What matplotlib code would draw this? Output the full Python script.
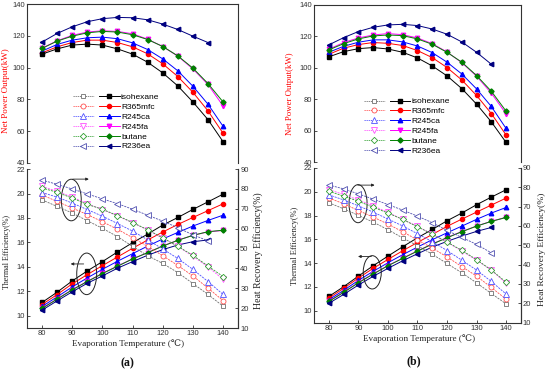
import matplotlib
matplotlib.use('Agg')
import matplotlib.pyplot as plt
from matplotlib.lines import Line2D
from matplotlib.legend_handler import HandlerTuple
from matplotlib.patches import Ellipse

temps = [80, 85, 90, 95, 100, 105, 110, 115, 120, 125, 130, 135, 140]
temps_r236 = temps[:-1]
fluids = ['isohexane', 'R365mfc', 'R245ca', 'R245fa', 'butane', 'R236ea']

# ---------------- panel (a) ----------------
a_power_isohexane = [108.5, 111.8, 114.2, 114.8, 114.2, 111.8, 108.5, 103.4, 96.7, 88.5, 78.4, 67.3, 53.4]
a_power_r365mfc = [109.3, 113.1, 115.8, 117.3, 117.3, 115.8, 113.1, 108.7, 102.4, 94.4, 84.5, 72.8, 58.7]
a_power_r245ca = [110.4, 114.6, 117.3, 118.8, 119.2, 118.2, 115.6, 111.4, 105.5, 98.0, 88.3, 77.0, 63.1]
a_power_r245fa = [112.3, 116.9, 120.3, 122.4, 123.2, 122.8, 121.3, 117.9, 113.3, 107.2, 99.2, 89.4, 75.9]
a_power_butane = [112.1, 116.7, 119.8, 121.9, 122.8, 122.4, 120.7, 117.7, 113.3, 107.4, 99.7, 90.0, 78.4]
a_power_r236ea = [116.1, 121.5, 125.7, 128.9, 130.8, 131.6, 131.4, 130.1, 127.4, 124.0, 119.8, 115.8]

a_thermal_isohexane = [11.09, 11.93, 12.85, 13.67, 14.43, 15.22, 15.98, 16.68, 17.42, 18.04, 18.70, 19.32, 19.95]
a_thermal_r365mfc = [10.92, 11.74, 12.61, 13.37, 14.10, 14.81, 15.52, 16.20, 16.85, 17.47, 18.04, 18.60, 19.16]
a_thermal_r245ca = [10.76, 11.55, 12.36, 13.10, 13.80, 14.46, 15.08, 15.70, 16.28, 16.82, 17.34, 17.80, 18.23]
a_thermal_r245fa = [10.62, 11.38, 12.14, 12.82, 13.47, 14.07, 14.66, 15.17, 15.71, 16.18, 16.58, 16.86, 16.98]
a_thermal_butane = [10.60, 11.36, 12.12, 12.80, 13.45, 14.05, 14.65, 15.16, 15.70, 16.17, 16.58, 16.88, 17.00]
a_thermal_r236ea = [10.46, 11.22, 11.96, 12.66, 13.26, 13.89, 14.43, 14.95, 15.41, 15.79, 16.06, 16.20]

a_recovery_isohexane = [74.5, 71.2, 67.9, 64.0, 60.2, 56.0, 51.1, 46.4, 42.5, 37.9, 32.4, 26.9, 21.0]
a_recovery_r365mfc = [77.0, 73.7, 70.4, 67.1, 63.5, 59.7, 55.5, 51.1, 46.4, 41.5, 36.2, 30.1, 23.8]
a_recovery_r245ca = [78.2, 75.9, 72.9, 69.6, 66.3, 62.6, 58.8, 54.4, 49.8, 45.0, 39.5, 33.4, 26.9]
a_recovery_r245fa = [81.3, 78.8, 75.9, 72.6, 69.6, 66.4, 63.0, 59.3, 55.2, 51.1, 46.1, 40.8, 34.5]
a_recovery_butane = [80.5, 78.3, 75.4, 72.2, 69.8, 66.6, 63.1, 59.5, 55.4, 51.1, 46.6, 41.2, 35.9]
a_recovery_r236ea = [84.5, 82.3, 80.0, 77.5, 75.0, 72.6, 69.8, 66.8, 63.8, 60.5, 56.9, 53.9]

# ---------------- panel (b) ----------------
b_power_isohexane = [107.0, 110.3, 112.2, 112.9, 112.0, 109.9, 106.3, 101.2, 94.9, 86.8, 76.9, 65.6, 52.5]
b_power_r365mfc = [108.6, 112.5, 114.8, 116.1, 115.6, 114.2, 111.0, 106.5, 100.2, 92.3, 82.4, 70.9, 57.2]
b_power_r245ca = [109.9, 113.7, 116.3, 117.8, 117.8, 116.5, 113.9, 109.7, 103.6, 96.1, 86.6, 75.4, 61.4]
b_power_r245fa = [111.8, 116.1, 119.0, 120.9, 121.8, 121.1, 119.0, 115.4, 110.1, 103.3, 94.7, 83.9, 70.7]
b_power_butane = [111.4, 115.4, 118.4, 120.3, 120.9, 120.5, 118.4, 115.0, 109.9, 103.6, 95.1, 85.1, 72.4]
b_power_r236ea = [114.6, 119.2, 123.1, 125.8, 127.3, 127.7, 126.9, 124.7, 121.4, 116.5, 109.9, 102.3]

b_thermal_isohexane = [11.20, 12.02, 12.91, 13.78, 14.59, 15.38, 16.13, 16.83, 17.56, 18.21, 18.91, 19.55, 20.17]
b_thermal_r365mfc = [11.06, 11.88, 12.75, 13.56, 14.31, 15.04, 15.74, 16.41, 17.09, 17.70, 18.29, 18.88, 19.47]
b_thermal_r245ca = [10.92, 11.71, 12.55, 13.31, 14.03, 14.71, 15.35, 15.97, 16.55, 17.11, 17.68, 18.21, 18.68]
b_thermal_r245fa = [10.80, 11.56, 12.37, 13.10, 13.80, 14.42, 15.03, 15.62, 16.15, 16.66, 17.12, 17.52, 17.86]
b_thermal_butane = [10.78, 11.54, 12.35, 13.08, 13.78, 14.40, 15.01, 15.60, 16.13, 16.64, 17.11, 17.51, 17.84]
b_thermal_r236ea = [10.62, 11.37, 12.16, 12.89, 13.56, 14.20, 14.79, 15.35, 15.83, 16.27, 16.67, 17.00]

b_recovery_isohexane = [72.0, 68.9, 65.5, 62.0, 58.1, 53.8, 49.8, 45.4, 40.6, 35.8, 30.6, 25.1, 19.7]
b_recovery_r365mfc = [74.5, 71.5, 68.0, 64.6, 61.0, 57.0, 52.8, 48.6, 44.0, 39.0, 34.1, 28.2, 22.1]
b_recovery_r245ca = [76.1, 73.5, 70.4, 67.2, 63.6, 60.0, 56.0, 51.9, 47.3, 42.3, 37.2, 31.3, 24.8]
b_recovery_r245fa = [78.8, 76.3, 73.5, 70.4, 67.0, 63.4, 59.8, 55.8, 51.6, 47.1, 42.3, 37.2, 30.3]
b_recovery_butane = [78.0, 75.4, 72.8, 69.7, 66.7, 63.4, 59.6, 55.8, 51.7, 47.4, 42.6, 37.2, 31.0]
b_recovery_r236ea = [81.2, 79.2, 76.6, 73.9, 71.1, 68.2, 65.1, 61.7, 57.7, 54.1, 50.5, 46.1]

power_ticks = [40, 60, 80, 100, 120, 140]
thermal_ticks = [10, 12, 14, 16, 18, 20, 22]
recovery_ticks = [10, 20, 30, 40, 50, 60, 70, 80, 90]
x_ticks = [80, 90, 100, 110, 120, 130, 140]

# ---------------- styles ----------------
filled_colors = ['#000000', '#ff0000', '#0000ff', '#ff00ff', '#008000', '#000080']
open_colors = ['#707070', '#ff5050', '#5050ff', '#ff50ff', '#30a030', '#5050b0']
markers = ['s', 'o', '^', 'v', 'D', '<']
msizes = [2.8, 3.0, 3.2, 3.2, 2.6, 3.2]

SANS = ['Liberation Sans', 'DejaVu Sans']
SERIF = ['Liberation Serif', 'DejaVu Serif', 'DejaVu Sans']
plt.rcParams['font.family'] = SANS

fig = plt.figure(figsize=(5.5, 3.7), dpi=100)

SPINE_C = '#333333'


def style_axis(ax, sides):
    for s in ['left', 'right', 'top', 'bottom']:
        ax.spines[s].set_visible(s in sides)
        ax.spines[s].set_linewidth(0.8)
        ax.spines[s].set_color(SPINE_C)
    ax.tick_params(direction='in', length=2.5, width=0.6, labelsize=5.5,
                   colors=SPINE_C, pad=1.5)


def series_x(vals):
    return temps[:len(vals)]


def draw_panel(boxes, power, thermal, recovery, label_pos, leg_anchor, ellipses, arrows, tag):
    (top_box, bot_box) = boxes
    axt = fig.add_axes(top_box)
    axb = fig.add_axes(bot_box)
    axr = axb.twinx()

    for i in range(6):
        axt.plot(series_x(power[i]), power[i], color=filled_colors[i], lw=0.7,
                 marker=markers[i], ms=msizes[i], mfc=filled_colors[i],
                 mec=filled_colors[i], zorder=3 + (i == 0))
        axb.plot(series_x(thermal[i]), thermal[i], color=filled_colors[i], lw=0.7,
                 marker=markers[i], ms=msizes[i], mfc=filled_colors[i],
                 mec=filled_colors[i], zorder=3)
        axr.plot(series_x(recovery[i]), recovery[i], color=open_colors[i], lw=0.6,
                 ls=(0, (2.5, 1.2)), marker=markers[i], ms=msizes[i] + 0.6,
                 mfc='white', mec=open_colors[i], mew=0.6, zorder=3)

    for ax in (axt, axb):
        ax.set_xlim(75, 145)
    axt.set_ylim(40, 140)
    axb.set_ylim(9, 22)
    axr.set_ylim(10, 90)
    axt.set_yticks(power_ticks)
    axb.set_yticks(thermal_ticks)
    axr.set_yticks(recovery_ticks)
    axb.set_xticks(x_ticks)
    axt.set_xticks([])

    style_axis(axt, ['left', 'right', 'top'])
    axt.tick_params(axis='y', right=False)
    style_axis(axb, ['left', 'bottom', 'right'])
    style_axis(axr, ['right', 'bottom', 'left'])
    axr.spines['left'].set_visible(False)
    axr.spines['bottom'].set_visible(False)
    axr.spines['top'].set_visible(False)
    axb.spines['top'].set_visible(False)
    axr.tick_params(axis='y', left=False, right=True)

    # legend
    handles = []
    for i in range(6):
        ho = Line2D([], [], color=open_colors[i], lw=0.6, ls=(0, (1.5, 1)),
                    marker=markers[i], ms=msizes[i] + 0.6, mfc='white',
                    mec=open_colors[i], mew=0.6)
        hf = Line2D([], [], color=filled_colors[i], lw=0.7, marker=markers[i],
                    ms=msizes[i], mfc=filled_colors[i], mec=filled_colors[i])
        handles.append((ho, hf))
    axt.legend(handles, fluids, handler_map={tuple: HandlerTuple(ndivide=None, pad=0.6)},
               loc='upper left', bbox_to_anchor=leg_anchor, frameon=False,
               fontsize=6, handlelength=5.6, handletextpad=0.15,
               labelspacing=0.25, borderpad=0, borderaxespad=0, numpoints=1)

    # annotations
    for (cx, cy, w, h) in ellipses:
        axb.add_patch(Ellipse((cx, cy), w, h, fill=False, ec='#222222', lw=0.7, zorder=5))
    for (x0, y0, x1, y1) in arrows:
        axb.annotate('', xy=(x1, y1), xytext=(x0, y0),
                     arrowprops=dict(arrowstyle='-|>', lw=0.6, color='#222222',
                                     mutation_scale=4, shrinkA=0, shrinkB=0), zorder=6)

    lp = label_pos
    fig.text(*lp['npo'], 'Net Power Output(kW)', rotation=90, ha='center', va='center',
             color='#ff0000', family=SERIF, fontsize=lp['npo_fs'])
    fig.text(*lp['th'], 'Thermal Efficiency(%)', rotation=90, ha='center', va='center',
             color='#222222', family=SERIF, fontsize=lp['th_fs'])
    fig.text(*lp['hr'], 'Heat Recovery Efficiency(%)', rotation=90, ha='center', va='center',
             color='#222222', family=SERIF, fontsize=lp['hr_fs'])
    fig.text(*lp['x'], 'Evaporation Temperature (\u2103)', ha='center', va='center',
             color='#222222', family=SERIF, fontsize=6.6)
    fig.text(*lp['tag'], tag, ha='center', va='center', color='#111111',
             family=SERIF, fontsize=8.5, fontweight='bold')


draw_panel(
    ([0.049, 0.5595, 0.384, 0.4295], [0.049, 0.1135, 0.384, 0.4295]),
    [a_power_isohexane, a_power_r365mfc, a_power_r245ca, a_power_r245fa, a_power_butane, a_power_r236ea],
    [a_thermal_isohexane, a_thermal_r365mfc, a_thermal_r245ca, a_thermal_r245fa, a_thermal_butane, a_thermal_r236ea],
    [a_recovery_isohexane, a_recovery_r365mfc, a_recovery_r245ca, a_recovery_r245fa, a_recovery_butane, a_recovery_r236ea],
    {'npo': (0.011, 0.754), 'npo_fs': 6.5, 'th': (0.0127, 0.319), 'th_fs': 5.8,
     'hr': (0.469, 0.322), 'hr_fs': 7.0, 'x': (0.233, 0.070), 'tag': (0.231, 0.019)},
    (0.218, 0.44),
    [(89.7, 19.47, 6.6, 3.4), (94.8, 13.43, 6.6, 3.4)],
    [(90.2, 21.18, 95.5, 21.18), (93.8, 14.24, 89.5, 14.24)],
    '(a)')

draw_panel(
    ([0.571, 0.562, 0.376, 0.4245], [0.571, 0.128, 0.376, 0.418]),
    [b_power_isohexane, b_power_r365mfc, b_power_r245ca, b_power_r245fa, b_power_butane, b_power_r236ea],
    [b_thermal_isohexane, b_thermal_r365mfc, b_thermal_r245ca, b_thermal_r245fa, b_thermal_butane, b_thermal_r236ea],
    [b_recovery_isohexane, b_recovery_r365mfc, b_recovery_r245ca, b_recovery_r245fa, b_recovery_butane, b_recovery_r236ea],
    {'npo': (0.527, 0.746), 'npo_fs': 6.3, 'th': (0.536, 0.335), 'th_fs': 6.0,
     'hr': (0.985, 0.327), 'hr_fs': 6.8, 'x': (0.762, 0.086), 'tag': (0.753, 0.024)},
    (0.24, 0.41),
    [(89.9, 19.0, 6.1, 3.2), (94.7, 13.23, 6.1, 2.8)],
    [(89.8, 20.56, 95.5, 20.56), (94.4, 14.56, 89.9, 14.56)],
    '(b)')

fig.savefig('out.png', dpi=100)
